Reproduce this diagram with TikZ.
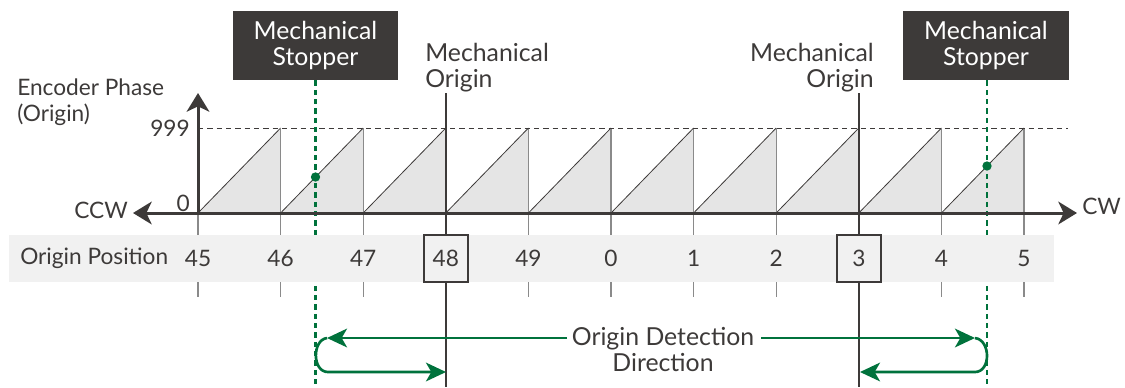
\documentclass[tikz,border=0pt]{standalone}
\usepackage{fontspec}
\setmainfont{Lato}
\usetikzlibrary{arrows.meta}
\definecolor{dk}{HTML}{3D3A39}
\definecolor{grn}{HTML}{00723C}
\definecolor{tri}{HTML}{E5E5E5}
\definecolor{bandc}{HTML}{F1F1F1}
\definecolor{gridc}{HTML}{8A8A8A}
\begin{document}
\begin{tikzpicture}[x=0.75pt,y=-0.75pt,
  font=\fontsize{17}{19.5}\selectfont, text=dk,
  big/.style={font=\fontsize{18.6}{19.5}\selectfont},
  axisline/.style={draw=dk, line width=2.25pt},
  gridline/.style={draw=gridc, line width=0.8pt},
  originline/.style={draw=dk, line width=1.2pt},
  stopline/.style={draw=grn, line width=2.2pt, dash pattern=on 4pt off 3pt},
  stopbox/.style={big, fill=dk, text=white, align=center, minimum width=124pt, minimum height=52pt, inner sep=0pt},
  posbox/.style={draw=dk, fill=bandc, line width=1.1pt, minimum width=33pt, minimum height=35pt, inner sep=0pt},
  posnum/.style={inner sep=0pt},
  garrow/.style={draw=grn, line width=2pt},
  gdot/.style={circle, fill=grn, inner sep=0pt, minimum size=7pt}
]
\useasboundingbox (0,0) rectangle (1125,387);

% sawtooth triangles
\foreach \k in {0,...,9} {
  \pgfmathsetmacro\xa{198+82.6*\k}
  \pgfmathsetmacro\xb{198+82.6*(\k+1)}
  \fill[tri] (\xa,213) -- (\xb,128) -- (\xb,213) -- cycle;
  \draw[dk, line width=0.6pt] (\xa,213) -- (\xb,128);
}
% grid lines
\draw[gridline] (198,213) -- (198,297);
\foreach \k in {1,...,10} {
  \pgfmathsetmacro\xa{198+82.6*\k}
  \draw[gridline] (\xa,128) -- (\xa,297);
}
% 999 dashed level
\draw[dk, line width=0.7pt, dash pattern=on 4pt off 3pt] (198,128) -- (1068,128);

% stopper boxes
\node[stopbox] (stopL) at (315.5,45.5) {Mechanical\\Stopper};
\node[stopbox] (stopR) at (986,45.5) {Mechanical\\Stopper};
\coordinate (dL) at (315.5,387);
\coordinate (dR) at (987,387);
\draw[stopline] (stopL.south) -- (dL);
\draw[stopline] (stopR.south -| dR) -- (dR);

% mechanical origin lines
\coordinate (moLt) at (446,93);
\coordinate (moLb) at (446,387);
\coordinate (moRt) at (859,93);
\coordinate (moRb) at (859,387);
\draw[originline] (moLt) -- (moLb);
\draw[originline] (moRt) -- (moRb);

% band
\fill[bandc] (9,235) rectangle (1054,282);

% axes
\coordinate (O) at (198,213);
\coordinate (ytop) at (198,93);
\coordinate (ccw) at (133,213);
\coordinate (cw) at (1077,213);
\draw[axisline, {Stealth[length=14pt,width=17pt,inset=4pt]}-{Stealth[length=14pt,width=17pt,inset=4pt]}] (ccw) -- (cw);
\draw[axisline, -{Stealth[length=14pt,width=17pt,inset=4pt]}] (O) -- (ytop);

% dots
\node[gdot] (pL) at (315.5,177) {};
\node[gdot] (pR) at (987,166) {};

% axis labels
\node[anchor=east, inner sep=0pt] (lccw) at (128,210) {CCW};
\node[anchor=west, inner sep=0pt] (lcw) at (1082,206) {CW};
\node[anchor=east, inner sep=0pt] (l999) at (190,128) {999};
\node[anchor=east, inner sep=0pt] (l0) at (190,203) {0};
\node[anchor=north west, align=left, inner sep=0pt] (enc) at (17,79) {Encoder Phase\\(Origin)};

\node[big, anchor=south west, align=left, inner sep=0pt] (moL) at (425,92) {Mechanical\\Origin};
\node[big, anchor=south east, align=right, inner sep=0pt] (moR) at (874,92) {Mechanical\\Origin};

% origin positions
\node[anchor=west, inner sep=0pt] (op) at (20,258) {Origin Position};
\foreach \k/\t in {0/45,1/46,2/47,4/49,5/0,6/1,7/2,9/4,10/5} {
  \node[posnum] (n\k) at (198+82.6*\k,258) {\t};
}
\node[posbox] (n3) at (445.8,258.5) {48};
\node[posbox] (n8) at (859,258.5) {3};

% detection direction
\node[big, align=center, inner sep=0pt] (det) at (663,350) {Origin Detection\\Direction};
\coordinate (aL1) at (567,338);
\coordinate (aL2) at (327,338);
\coordinate (aL3) at (446,372);
\coordinate (aR1) at (761,338);
\coordinate (aR2) at (975,338);
\coordinate (aR3) at (860,372);
\draw[garrow, -{Stealth[length=15pt,width=14pt,inset=4pt]}] (aL1) -- (aL2);
\draw[garrow, -{Stealth[length=15pt,width=14pt,inset=4pt]}] (aL2) .. controls (312,340) and (312,372) .. (328,372) -- (aL3);
\draw[garrow, -{Stealth[length=15pt,width=14pt,inset=4pt]}] (aR1) -- (aR2);
\draw[garrow, -{Stealth[length=15pt,width=14pt,inset=4pt]}] (aR2) .. controls (991,340) and (991,372) .. (975,372) -- (aR3);
\end{tikzpicture}
\end{document}
